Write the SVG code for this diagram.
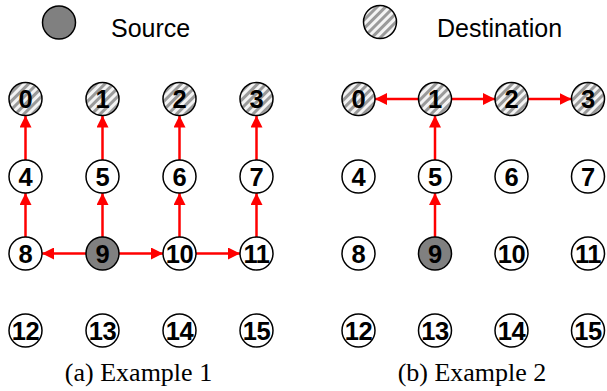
<svg xmlns="http://www.w3.org/2000/svg" width="607" height="391" viewBox="0 0 607 391">
<style>
.n{stroke:#000;stroke-width:1.5;fill:#fff}
.s{fill:#808080}
.d{fill:url(#hatch)}
.t{font-family:"Liberation Sans",Arial,sans-serif;font-weight:bold;font-size:25.5px;text-anchor:middle;fill:#000}
.t2{letter-spacing:-0.5px}
.lg{font-family:"Liberation Sans",Arial,sans-serif;font-size:25px;fill:#000}
.cap{font-family:"Liberation Serif","Times New Roman",serif;font-size:26px;text-anchor:middle;fill:#000}
.e{stroke:#f00;stroke-width:2.5;fill:none;marker-end:url(#ah)}
</style>
<defs>
<pattern id="hatch" width="6" height="6" patternUnits="userSpaceOnUse" patternTransform="rotate(45)">
<rect width="6" height="6" fill="#f4f4f4"/>
<rect width="3" height="6" fill="#9a9a9a"/>
</pattern>
<marker id="ah" markerUnits="userSpaceOnUse" markerWidth="12" markerHeight="12" refX="10" refY="5" orient="auto" viewBox="0 0 10 10">
<path d="M0,0 L10,5 L0,10 Z" fill="#f00"/>
</marker>
</defs>
<g id="legend">
<g id="legend-source"><circle class="n s" cx="59" cy="22.5" r="16.5"/><text class="lg" x="111" y="37">Source</text></g>
<g id="legend-destination"><circle class="n d" cx="380" cy="22" r="16.5"/><text class="lg" x="437" y="37">Destination</text></g>
</g>
<g id="connectors">
<line class="e" x1="86" y1="253.5" x2="42" y2="253.5"/>
<line class="e" x1="119" y1="253.5" x2="163" y2="253.5"/>
<line class="e" x1="196" y1="253.5" x2="240" y2="253.5"/>
<line class="e" x1="25.5" y1="237" x2="25.5" y2="193"/>
<line class="e" x1="25.5" y1="160" x2="25.5" y2="115.5"/>
<line class="e" x1="102.5" y1="237" x2="102.5" y2="193"/>
<line class="e" x1="102.5" y1="160" x2="102.5" y2="115.5"/>
<line class="e" x1="179.5" y1="237" x2="179.5" y2="193"/>
<line class="e" x1="179.5" y1="160" x2="179.5" y2="115.5"/>
<line class="e" x1="256.5" y1="237" x2="256.5" y2="193"/>
<line class="e" x1="256.5" y1="160" x2="256.5" y2="115.5"/>
<line class="e" x1="435" y1="237" x2="435" y2="193"/>
<line class="e" x1="435" y1="160" x2="435" y2="115.5"/>
<line class="e" x1="418.5" y1="99" x2="375" y2="99"/>
<line class="e" x1="451.5" y1="99" x2="495" y2="99"/>
<line class="e" x1="528" y1="99" x2="571.5" y2="99"/>
</g>
<g id="example1">
<g id="a0"><circle class="n d" cx="25.5" cy="99" r="16.5"/><text class="t" x="25.5" y="108">0</text></g>
<g id="a1"><circle class="n d" cx="102.5" cy="99" r="16.5"/><text class="t" x="102.5" y="108">1</text></g>
<g id="a2"><circle class="n d" cx="179.5" cy="99" r="16.5"/><text class="t" x="179.5" y="108">2</text></g>
<g id="a3"><circle class="n d" cx="256.5" cy="99" r="16.5"/><text class="t" x="256.5" y="108">3</text></g>
<g id="a4"><circle class="n" cx="25.5" cy="176.5" r="16.5"/><text class="t" x="25.5" y="185.5">4</text></g>
<g id="a5"><circle class="n" cx="102.5" cy="176.5" r="16.5"/><text class="t" x="102.5" y="185.5">5</text></g>
<g id="a6"><circle class="n" cx="179.5" cy="176.5" r="16.5"/><text class="t" x="179.5" y="185.5">6</text></g>
<g id="a7"><circle class="n" cx="256.5" cy="176.5" r="16.5"/><text class="t" x="256.5" y="185.5">7</text></g>
<g id="a8"><circle class="n" cx="25.5" cy="253.5" r="16.5"/><text class="t" x="25.5" y="262.5">8</text></g>
<g id="a9"><circle class="n s" cx="102.5" cy="253.5" r="16.5"/><text class="t" x="102.5" y="262.5">9</text></g>
<g id="a10"><circle class="n" cx="179.5" cy="253.5" r="16.5"/><text class="t t2" x="179.5" y="262.5">10</text></g>
<g id="a11"><circle class="n" cx="256.5" cy="253.5" r="16.5"/><text class="t t2" x="256.5" y="262.5">11</text></g>
<g id="a12"><circle class="n" cx="25.5" cy="330.5" r="16.5"/><text class="t t2" x="25.5" y="339.5">12</text></g>
<g id="a13"><circle class="n" cx="102.5" cy="330.5" r="16.5"/><text class="t t2" x="102.5" y="339.5">13</text></g>
<g id="a14"><circle class="n" cx="179.5" cy="330.5" r="16.5"/><text class="t t2" x="179.5" y="339.5">14</text></g>
<g id="a15"><circle class="n" cx="256.5" cy="330.5" r="16.5"/><text class="t t2" x="256.5" y="339.5">15</text></g>
<text class="cap" x="138.5" y="381">(a) Example 1</text>
</g>
<g id="example2">
<g id="b0"><circle class="n d" cx="358.5" cy="99" r="16.5"/><text class="t" x="358.5" y="108">0</text></g>
<g id="b1"><circle class="n d" cx="435" cy="99" r="16.5"/><text class="t" x="435" y="108">1</text></g>
<g id="b2"><circle class="n d" cx="511.5" cy="99" r="16.5"/><text class="t" x="511.5" y="108">2</text></g>
<g id="b3"><circle class="n d" cx="588" cy="99" r="16.5"/><text class="t" x="588" y="108">3</text></g>
<g id="b4"><circle class="n" cx="358.5" cy="176.5" r="16.5"/><text class="t" x="358.5" y="185.5">4</text></g>
<g id="b5"><circle class="n" cx="435" cy="176.5" r="16.5"/><text class="t" x="435" y="185.5">5</text></g>
<g id="b6"><circle class="n" cx="511.5" cy="176.5" r="16.5"/><text class="t" x="511.5" y="185.5">6</text></g>
<g id="b7"><circle class="n" cx="588" cy="176.5" r="16.5"/><text class="t" x="588" y="185.5">7</text></g>
<g id="b8"><circle class="n" cx="358.5" cy="253.5" r="16.5"/><text class="t" x="358.5" y="262.5">8</text></g>
<g id="b9"><circle class="n s" cx="435" cy="253.5" r="16.5"/><text class="t" x="435" y="262.5">9</text></g>
<g id="b10"><circle class="n" cx="511.5" cy="253.5" r="16.5"/><text class="t t2" x="511.5" y="262.5">10</text></g>
<g id="b11"><circle class="n" cx="588" cy="253.5" r="16.5"/><text class="t t2" x="588" y="262.5">11</text></g>
<g id="b12"><circle class="n" cx="358.5" cy="330.5" r="16.5"/><text class="t t2" x="358.5" y="339.5">12</text></g>
<g id="b13"><circle class="n" cx="435" cy="330.5" r="16.5"/><text class="t t2" x="435" y="339.5">13</text></g>
<g id="b14"><circle class="n" cx="511.5" cy="330.5" r="16.5"/><text class="t t2" x="511.5" y="339.5">14</text></g>
<g id="b15"><circle class="n" cx="588" cy="330.5" r="16.5"/><text class="t t2" x="588" y="339.5">15</text></g>
<text class="cap" x="472" y="381">(b) Example 2</text>
</g>
</svg>
